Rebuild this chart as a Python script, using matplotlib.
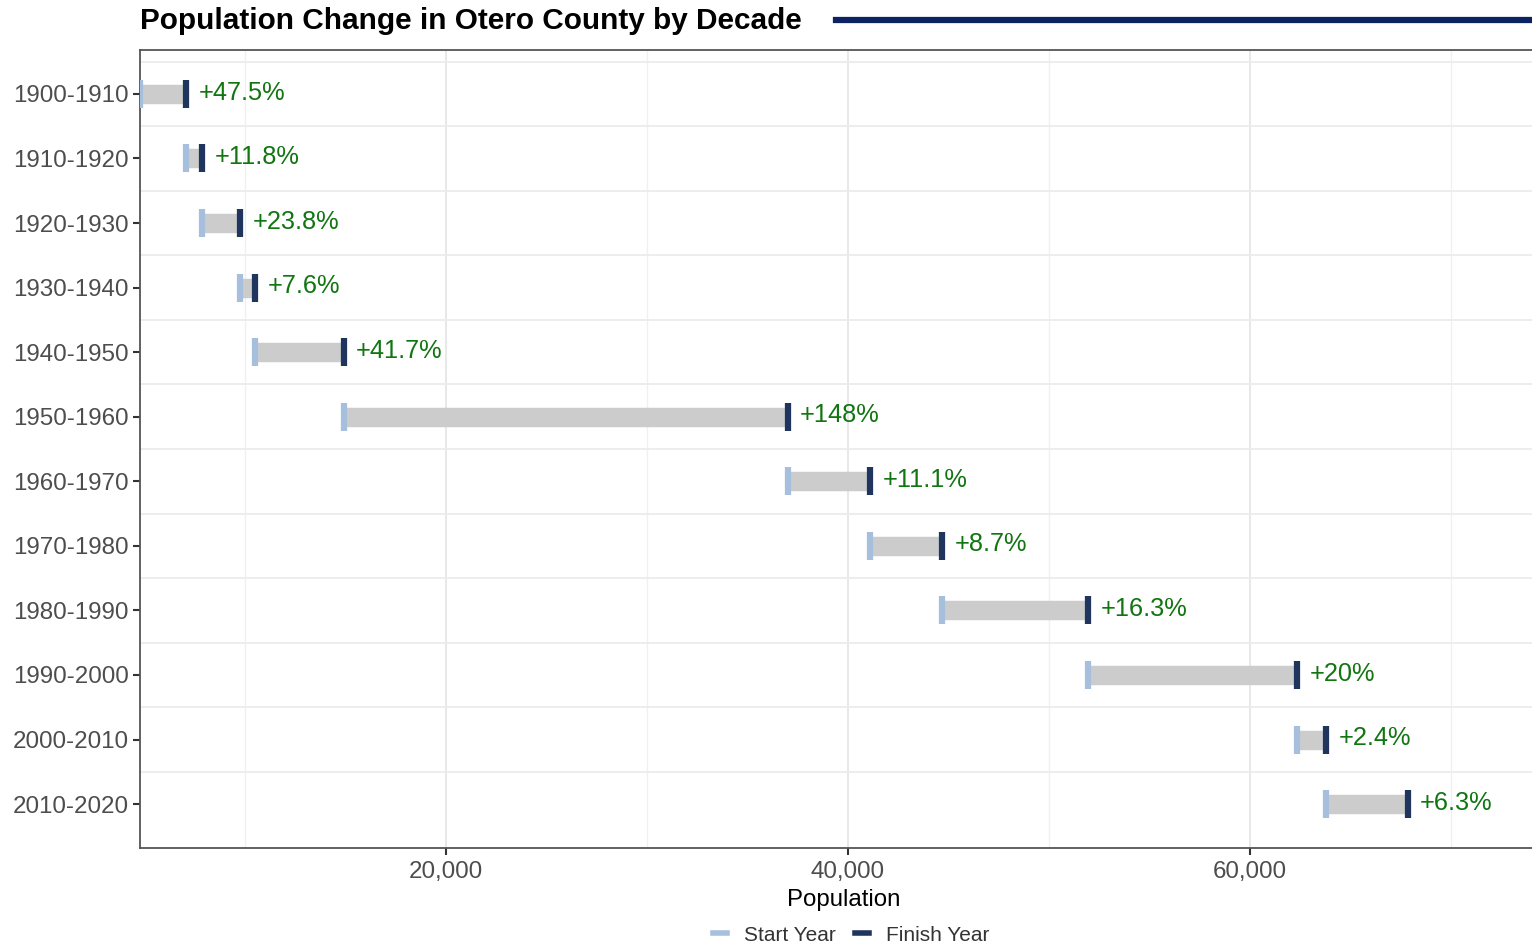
import matplotlib
matplotlib.use("Agg")
import matplotlib.pyplot as plt
from matplotlib.lines import Line2D

decades = ["1900-1910", "1910-1920", "1920-1930", "1930-1940", "1940-1950",
           "1950-1960", "1960-1970", "1970-1980", "1980-1990", "1990-2000",
           "2000-2010", "2010-2020"]
start_pop = [4800, 7080, 7900, 9780, 10530, 14920, 37000, 41100, 44680, 51960, 62340, 63790]
finish_pop = [7080, 7900, 9780, 10530, 14920, 37000, 41100, 44680, 51960, 62340, 63790, 67830]
pct_labels = ["+47.5%", "+11.8%", "+23.8%", "+7.6%", "+41.7%", "+148%",
              "+11.1%", "+8.7%", "+16.3%", "+20%", "+2.4%", "+6.3%"]
xticks = [20000, 40000, 60000]
xtick_labels = ["20,000", "40,000", "60,000"]
minor_ticks = [10000, 30000, 50000, 70000]

plt.rcParams['font.family'] = ['Liberation Sans', 'DejaVu Sans']

W, H = 1532, 946
RIGHT = 1548  # panel continues slightly beyond the image edge
fig = plt.figure(figsize=(W / 100, H / 100), dpi=100)
ax = fig.add_axes([140 / W, 1 - 848 / H, (RIGHT - 140) / W, (848 - 50) / H])

n = len(decades)
ypos = list(range(n))

# gridlines
for m in minor_ticks:
    ax.axvline(m, color='#f0f0f0', lw=1.0, zorder=0)
for t in xticks:
    ax.axvline(t, color='#e6e6e6', lw=1.3, zorder=0)
for k in range(n):
    ax.axhline(k - 0.5, color='#ececec', lw=1.3, zorder=0)

ax.hlines(ypos, start_pop, finish_pop, color='#cccccc', lw=14, zorder=2)
ax.scatter(start_pop, ypos, marker='|', s=420, linewidths=4.5, color='#a6bfdc', zorder=3)
ax.scatter(finish_pop, ypos, marker='|', s=420, linewidths=4.5, color='#1f355e', zorder=4)

for y, x, lab in zip(ypos, finish_pop, pct_labels):
    ax.annotate(lab, (x, y), xytext=(9, 1), textcoords='offset points',
                ha='left', va='center', color='#117511', fontsize=18.3, zorder=5)

ax.set_xlim(4800, 74807)
ax.set_ylim(n - 1 + 0.68, -0.68)
ax.set_yticks(ypos)
ax.set_yticklabels(decades)
ax.set_xticks(xticks)
ax.set_xticklabels(xtick_labels)
ax.tick_params(axis='both', colors='#333333', labelcolor='#4d4d4d', labelsize=17.4,
               length=5, width=1.5)
ax.tick_params(axis='y', pad=3)
ax.tick_params(axis='x', pad=4)
for s in ['left', 'bottom', 'top']:
    ax.spines[s].set_color('#555555')
    ax.spines[s].set_linewidth(1.3)
ax.spines['right'].set_visible(False)

ax.set_xlabel("Population", fontsize=17.3, color='black', labelpad=5)

fig.text(140 / W, 1 - 21 / H, "Population Change in Otero County by Decade",
         fontsize=21.4, fontweight='bold', ha='left', va='center', color='black')
fig.add_artist(Line2D([836 / W, 1.0], [1 - 20 / H, 1 - 20 / H], color='#0b2461',
                      lw=4.5, transform=fig.transFigure))

handles = [Line2D([0], [0], color='#a6bfdc', lw=4),
           Line2D([0], [0], color='#1f355e', lw=4)]
fig.legend(handles, ["Start Year", "Finish Year"], loc='center',
           bbox_to_anchor=(851 / W, 1 - 935 / H), ncol=2, frameon=False,
           fontsize=15, handlelength=0.7, handletextpad=0.8, columnspacing=0.9,
           labelcolor='#333333')

fig.savefig("out.png", dpi=100)
